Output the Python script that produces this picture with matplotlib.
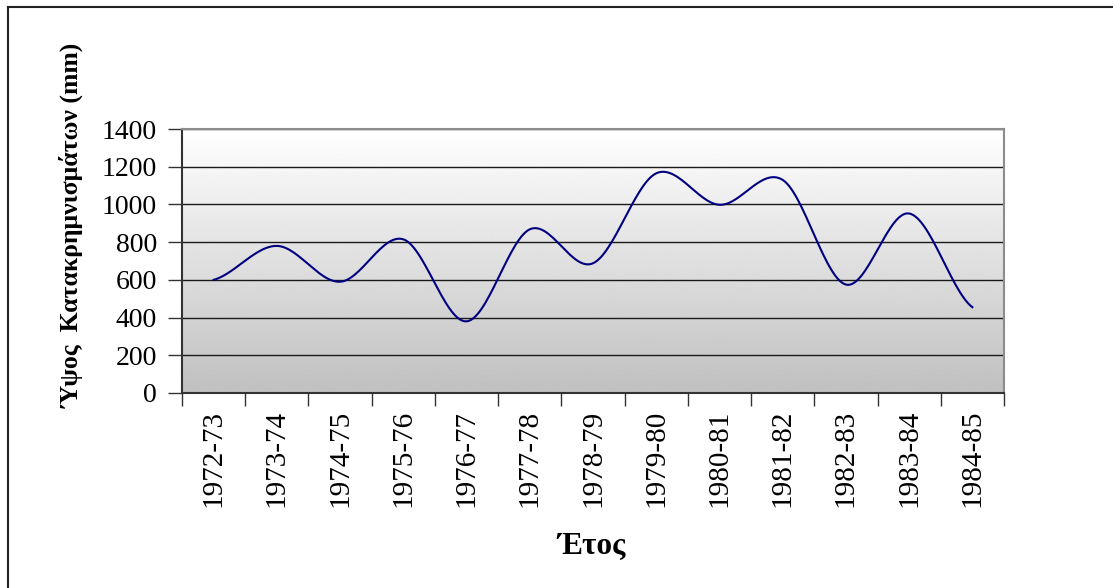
import numpy as np
import matplotlib
matplotlib.use("Agg")
import matplotlib.pyplot as plt
from matplotlib.lines import Line2D

years = ["1972-73", "1973-74", "1974-75", "1975-76", "1976-77", "1977-78", "1978-79",
         "1979-80", "1980-81", "1981-82", "1982-83", "1983-84", "1984-85"]
rain = [600, 780, 590, 815, 380, 868, 688, 1165, 998, 1130, 575, 952, 455]

plt.rcParams['font.family'] = ['Liberation Serif', 'DejaVu Serif']


def smooth(xs, ys, n=30):
    # catmull-rom, close to excel's "smoothed line"
    xs = np.asarray(xs, float)
    ys = np.asarray(ys, float)
    px = np.concatenate([[2 * xs[0] - xs[1]], xs, [2 * xs[-1] - xs[-2]]])
    py = np.concatenate([[ys[0]], ys, [ys[-1]]])
    outx, outy = [], []
    for i in range(1, len(px) - 2):
        t = np.linspace(0, 1, n, endpoint=False)
        m1 = (py[i + 1] - py[i - 1]) / 2
        m2 = (py[i + 2] - py[i]) / 2
        h00 = 2 * t**3 - 3 * t**2 + 1
        h10 = t**3 - 2 * t**2 + t
        h01 = -2 * t**3 + 3 * t**2
        h11 = t**3 - t**2
        outx.extend(px[i] + t * (px[i + 1] - px[i]))
        outy.extend(h00 * py[i] + h10 * m1 + h01 * py[i + 1] + h11 * m2)
    outx.append(xs[-1])
    outy.append(ys[-1])
    return np.array(outx), np.array(outy)


fig = plt.figure(figsize=(11.13, 5.88), dpi=100)
ax = fig.add_axes([182 / 1113, 195 / 588, 822 / 1113, 264 / 588])

# gradient background
grad = np.linspace(1.0, 0.753, 256).reshape(-1, 1)
ax.imshow(grad, cmap='gray', vmin=0, vmax=1, aspect='auto', extent=[0, 1, 0, 1],
          transform=ax.transAxes, zorder=0, interpolation='bilinear')

x = np.arange(len(years))
sx, sy = smooth(x, rain)
ax.plot(sx, sy, color='#000080', lw=1.5, zorder=3)

ax.set_xlim(-0.5, len(years) - 0.5)
ax.set_ylim(0, 1400)
ax.set_yticks(range(0, 1401, 200))
for v in range(200, 1401, 200):
    ax.axhline(v, color='#1a1a1a', lw=1.0, zorder=1)

ax.set_xticks(np.arange(-0.5, len(years), 1.0))
ax.set_xticklabels([])
ax.set_xticks(x, minor=True)
ax.set_xticklabels(years, minor=True, rotation=90, fontsize=21)
ax.tick_params(axis='x', which='major', length=9, width=1, color='#333333')
ax.tick_params(axis='x', which='minor', length=0, pad=12)
ax.tick_params(axis='y', length=10, width=1, color='#333333', pad=8, labelsize=20)

for s in ['left', 'bottom']:
    ax.spines[s].set_color('#333333')
    ax.spines[s].set_linewidth(1.5)
for s in ['top', 'right']:
    ax.spines[s].set_color('#8c8c8c')
    ax.spines[s].set_linewidth(1.5)

fig.text(72 / 1113, 1 - 225 / 588, "Ύψος  Κατακρημνισμάτων (mm)", rotation=90,
         ha='center', va='center', fontsize=18.5, fontweight='bold')
fig.text(592 / 1113, 1 - 546 / 588, "Έτος", ha='center', va='center',
         fontsize=22.5, fontweight='bold')

# frame (only top and left visible in the cropped original)
fig.add_artist(Line2D([7.5 / 1113, 7.5 / 1113], [0, 1 - 6.5 / 588], transform=fig.transFigure,
                      color='#222222', lw=1.5))
fig.add_artist(Line2D([7.5 / 1113, 1], [1 - 6.5 / 588, 1 - 6.5 / 588], transform=fig.transFigure,
                      color='#222222', lw=1.5))

fig.savefig("out.png", dpi=100)
